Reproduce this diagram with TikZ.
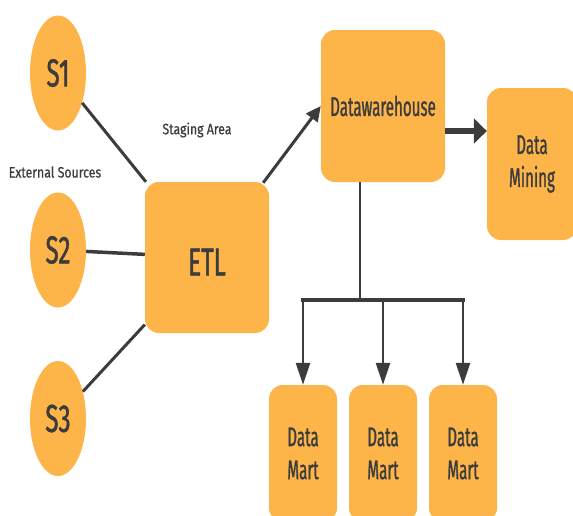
\documentclass[tikz,border=0pt]{standalone}
\usepackage{fontspec}
\setmainfont{Fira Sans}
\newfontfamily\bigface[FakeStretch=0.62,FakeBold=1.2]{Fira Sans}
\newfontfamily\midface[FakeStretch=0.56,FakeBold=1.0]{Fira Sans}
\newfontfamily\smallface[FakeStretch=0.82,FakeBold=0.6]{Fira Sans}
\usetikzlibrary{shapes.geometric,arrows.meta}
\definecolor{boxfill}{RGB}{253,181,74}
\definecolor{ink}{RGB}{60,60,60}
\begin{document}
\begin{tikzpicture}[x=1pt,y=-1pt,
  source/.style={ellipse,fill=boxfill,minimum width=56pt,minimum height=115pt,
    inner sep=0pt,text=ink,font=\bigface\fontsize{39}{39}\selectfont},
  stage/.style={rectangle,rounded corners=14pt,fill=boxfill,inner sep=0pt,
    text=ink,align=center,font=\midface\fontsize{27}{33}\selectfont},
  mart/.style={stage,minimum width=68pt,minimum height=137pt},
  link/.style={draw=ink,line width=3pt},
  flow/.style={draw=ink,line width=2.6pt,-{Triangle[length=22pt,width=14pt]}},
  note/.style={text=ink,font=\smallface\fontsize{15}{15}\selectfont,inner sep=0pt}]
\useasboundingbox (0,0) rectangle (573,515);
\clip (0,0) rectangle (573,515);

% external sources
\node[source] (s1) at (58,73) {S1};
\node[source] (s2) at (58,250) {S2};
\node[source] (s3) at (58,418.5) {S3};

% staging and warehouse
\node[stage,minimum width=124pt,minimum height=151pt,
  font=\bigface\fontsize{39}{39}\selectfont,text height=36pt] (etl) at (207,257.5) {ETL};
\node[stage,minimum width=124pt,minimum height=152pt] (dw) at (383,106) {Datawarehouse};
\node[stage,minimum width=90pt,minimum height=152pt] (mining) at (532,164) {Data\\Mining};

% data marts
\node[mart] (m1) at (303,453.5) {Data\\Mart};
\node[mart] (m2) at (383,453.5) {Data\\Mart};
\node[mart] (m3) at (463,453.5) {Data\\Mart};

% labels
\node[note] (staging) at (197,130) {Staging Area};
\node[note] (external) at (55,172) {External Sources};

% sources into ETL
\draw[link] (s1) -- (etl);
\draw[link,line width=3.5pt] (s2) -- (etl);
\draw[link] (s3) -- (etl);

% ETL into warehouse, warehouse into mining
\draw[link,-{Triangle[length=15pt,width=14pt]}] ([shift={(-6,1)}]etl.north east) -- (dw.west);
\draw[draw=ink,line width=6pt,-{Triangle[length=13pt,width=25pt]}]
  (dw.east |- 0,131) -- (mining.west |- 0,131);

% warehouse into marts
\coordinate (tap) at (360,300);
\coordinate (busL) at (m1 |- tap);
\coordinate (busM) at (m2 |- tap);
\coordinate (busR) at (m3 |- tap);
\draw[draw=ink,line width=2.6pt] ([xshift=-23pt]dw.south) -- (tap);
\draw[draw=ink,line width=3.5pt,line cap=rect] (busL) -- (busR);
\draw[flow] (busL) -- (m1.north);
\draw[flow] (busM) -- (m2.north);
\draw[flow] (busR) -- (m3.north);
\end{tikzpicture}
\end{document}
